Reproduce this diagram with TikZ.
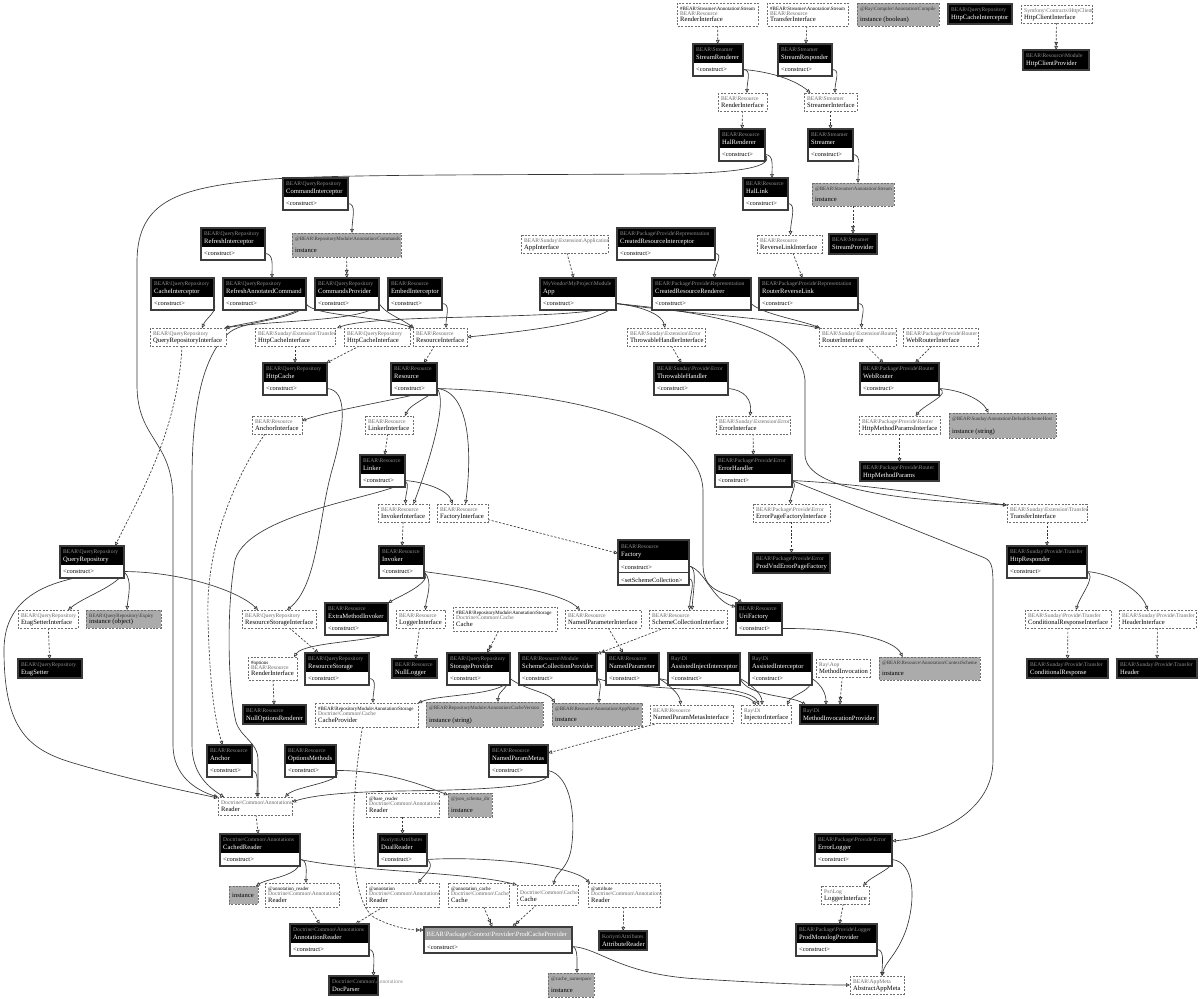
\documentclass[tikz,border=0pt]{standalone}
\usepackage{fontspec}
\setmainfont{Liberation Serif}
\usetikzlibrary{arrows.meta}
\definecolor{hdrns}{HTML}{8E8E8E}
\definecolor{ifns}{HTML}{6A6A6A}
\definecolor{instfill}{HTML}{ABABAB}
\definecolor{edgecol}{HTML}{363636}
\definecolor{clsborder}{HTML}{3C3C3C}
\definecolor{ifborder}{HTML}{6E6E6E}
\definecolor{pcgray}{HTML}{9C9C9C}
\newcommand\bsl{\textbackslash}
\newcommand\fns{\fontsize{5.6pt}{6pt}\selectfont}
\newcommand\fnm{\fontsize{6.6pt}{7.5pt}\selectfont}
\newcommand\fan{\fontsize{5pt}{5.5pt}\selectfont}
\newcommand\frow{\fontsize{6.4pt}{7pt}\selectfont}
\pgfdeclarelayer{back}
\pgfdeclarelayer{bg}
\pgfsetlayers{back,bg,main}
\tikzset{
  boxnode/.style={inner sep=0pt, outer sep=0pt, rectangle},
  nsT/.style={inner sep=0pt, anchor=base west, font=\fns},
  nmT/.style={inner sep=0pt, anchor=base west, font=\fnm},
  anT/.style={inner sep=0pt, anchor=base west, font=\fan},
  rowT/.style={inner sep=0pt, anchor=base west, font=\frow},
  clsline/.style={draw=clsborder, line width=1.1pt},
  ifline/.style={draw=ifborder, line width=0.7pt, dash pattern=on 2pt off 1.4pt, fill=white},
  instline/.style={draw=ifborder, line width=0.8pt, dash pattern=on 2pt off 1.4pt, fill=instfill},
  dep/.style={draw=edgecol, line width=0.65pt, -{Triangle[open, length=4pt, width=3.6pt]}},
  bind/.style={dep, dash pattern=on 2.2pt off 1.6pt},
  bindd/.style={bind, -{Triangle[open, length=4pt, width=3.6pt] Triangle[open, length=4pt, width=3.6pt]}},
}
% class box with one <construct> row
\newcommand\ClassBox[6]{%
  \pgfmathsetmacro\bw{#4-#2}%
  \node[boxnode, minimum width=\bw pt, minimum height=32pt, anchor=north west] (#1) at (#2,#3) {};
  \fill[white] (#2,#3) rectangle (#4,#3+32);
  \fill[black] (#2,#3) rectangle (#4,#3+19);
  \node[nsT, text=hdrns] at (#2+3,#3+7.6) {#5};
  \node[nmT, text=white] at (#2+3,#3+15.2) {#6};
  \node[rowT] at (#2+3,#3+27.4) {\textless construct\textgreater};
  \draw[clsline] (#2,#3) rectangle (#4,#3+32);
  \coordinate (#1-p) at (#4,#3+25.5);
}
% header-only black box
\newcommand\ProvBox[7]{%
  \pgfmathsetmacro\bw{#4-#2}\pgfmathsetmacro\bh{#5-#3}%
  \node[boxnode, minimum width=\bw pt, minimum height=\bh pt, anchor=north west] (#1) at (#2,#3) {};
  \fill[black] (#2,#3) rectangle (#4,#5);
  \node[nsT, text=hdrns] at (#2+3,#3+7.6) {#6};
  \node[nmT, text=white] at (#2+3,#3+15.2) {#7};
  \draw[clsline] (#2,#3) rectangle (#4,#5);
}
% interface box, two lines
\newcommand\IfBox[7]{%
  \pgfmathsetmacro\bw{#4-#2}\pgfmathsetmacro\bh{#5-#3}%
  \node[boxnode, minimum width=\bw pt, minimum height=\bh pt, anchor=north west] (#1) at (#2,#3) {};
  \draw[ifline] (#2,#3) rectangle (#4,#5);
  \node[nsT, text=ifns] at (#2+3,#5-10.6) {#6};
  \node[nmT] at (#2+3,#5-3.4) {#7};
}
% interface box, three lines
\newcommand\IfBoxA[8]{%
  \pgfmathsetmacro\bw{#4-#2}\pgfmathsetmacro\bh{#5-#3}%
  \node[boxnode, minimum width=\bw pt, minimum height=\bh pt, anchor=north west] (#1) at (#2,#3) {};
  \draw[ifline] (#2,#3) rectangle (#4,#5);
  \node[anT] at (#2+3,#3+7) {#6};
  \node[nsT, text=ifns] at (#2+3,#3+12.8) {#7};
  \node[nmT] at (#2+3,#5-4.6) {#8};
}
% instance box
\newcommand\InstBox[7]{%
  \pgfmathsetmacro\bw{#4-#2}\pgfmathsetmacro\bh{#5-#3}%
  \node[boxnode, minimum width=\bw pt, minimum height=\bh pt, anchor=north west] (#1) at (#2,#3) {};
  \draw[instline] (#2,#3) rectangle (#4,#5);
  \node[anT, text=black!80] at (#2+3,#3+7.2) {#6};
  \node[nmT] at (#2+3,#5-5) {#7};
}
\newcommand\InstBoxS[6]{%
  \pgfmathsetmacro\bw{#4-#2}\pgfmathsetmacro\bh{#5-#3}%
  \node[boxnode, minimum width=\bw pt, minimum height=\bh pt, anchor=north west] (#1) at (#2,#3) {};
  \draw[instline] (#2,#3) rectangle (#4,#5);
  \node[nmT] at (#2+3,#5-6.5) {#6};
}
\begin{document}
\begin{tikzpicture}[x=1pt,y=-1pt]
\useasboundingbox (0,0) rectangle (1200,999);
\begin{pgfonlayer}{back}
\fill[white] (0,0) rectangle (1200,999);
\end{pgfonlayer}
% ---------------- nodes ----------------
\IfBoxA{ifRA}{677}{3}{758}{26}{\#BEAR\bsl Streamer\bsl Annotation\bsl Stream}{BEAR\bsl Resource}{RenderInterface}
\IfBoxA{ifTA}{767}{3}{848}{26}{\#BEAR\bsl Streamer\bsl Annotation\bsl Stream}{BEAR\bsl Resource}{TransferInterface}
\InstBox{iCompile}{857}{3}{939}{26}{@Ray\bsl Compiler\bsl Annotation\bsl Compile}{instance (boolean)}
\ProvBox{HttpCacheInterceptor}{948}{4}{1012}{24}{BEAR\bsl QueryRepository}{HttpCacheInterceptor}
\IfBox{HttpClientIf}{1021}{5}{1092}{23}{Symfony\bsl Contracts\bsl HttpClient}{HttpClientInterface}
\ProvBox{HttpClientProvider}{1023}{50}{1089}{70}{BEAR\bsl Resource\bsl Module}{HttpClientProvider}
\ClassBox{StreamRenderer}{693}{44}{743}{BEAR\bsl Streamer}{StreamRenderer}
\ClassBox{StreamResponder}{778}{44}{832}{BEAR\bsl Streamer}{StreamResponder}
\IfBox{riR}{718}{93}{767}{111}{BEAR\bsl Resource}{RenderInterface}
\IfBox{StreamerIf}{804}{93}{857}{111}{BEAR\bsl Streamer}{StreamerInterface}
\ClassBox{HalRenderer}{719}{129}{765}{BEAR\bsl Resource}{HalRenderer}
\ClassBox{Streamer}{808}{129}{853}{BEAR\bsl Streamer}{Streamer}
\ClassBox{HalLink}{743}{178}{788}{BEAR\bsl Resource}{HalLink}
\InstBox{iStream}{812}{183}{894}{206}{@BEAR\bsl Streamer\bsl Annotation\bsl Stream}{instance}
\ProvBox{StreamProvider}{829}{234}{877}{254}{BEAR\bsl Streamer}{StreamProvider}
\IfBox{ReverseLinkIf}{757}{235}{822}{253}{BEAR\bsl Resource}{ReverseLinkInterface}
\ClassBox{CommandInterceptor}{283}{178}{348}{BEAR\bsl QueryRepository}{CommandInterceptor}
\InstBox{iCommands}{292}{233}{401}{257}{@BEAR\bsl RepositoryModule\bsl Annotation\bsl Commands}{instance}
\ClassBox{RefreshInterceptor}{201}{228}{265}{BEAR\bsl QueryRepository}{RefreshInterceptor}
\IfBox{AppIf}{521}{235}{608}{253}{BEAR\bsl Sunday\bsl Extension\bsl Application}{AppInterface}
\ClassBox{CRInterceptor}{617}{228}{715}{BEAR\bsl Package\bsl Provide\bsl Representation}{CreatedResourceInterceptor}
\ClassBox{CacheInterceptor}{151}{278}{214}{BEAR\bsl QueryRepository}{CacheInterceptor}
\ClassBox{RAC}{223}{278}{306}{BEAR\bsl QueryRepository}{RefreshAnnotatedCommand}
\ClassBox{CommandsProvider}{315}{278}{379}{BEAR\bsl QueryRepository}{CommandsProvider}
\ClassBox{EmbedInterceptor}{388}{278}{442}{BEAR\bsl Resource}{EmbedInterceptor}
\ClassBox{App}{540}{278}{616}{MyVendor\bsl MyProject\bsl Module}{App}
\ClassBox{CRRenderer}{652}{278}{751}{BEAR\bsl Package\bsl Provide\bsl Representation}{CreatedResourceRenderer}
\ClassBox{RouterReverseLink}{759}{278}{858}{BEAR\bsl Package\bsl Provide\bsl Representation}{RouterReverseLink}
\IfBox{QRI}{150}{328}{226}{346}{BEAR\bsl QueryRepository}{QueryRepositoryInterface}
\IfBox{HttpCacheIfS}{255}{328}{335}{346}{BEAR\bsl Sunday\bsl Extension\bsl Transfer}{HttpCacheInterface}
\IfBox{HttpCacheIfQ}{344}{328}{410}{346}{BEAR\bsl QueryRepository}{HttpCacheInterface}
\IfBox{ResourceIf}{413}{328}{467}{346}{BEAR\bsl Resource}{ResourceInterface}
\IfBox{ThrowableHandlerIf}{627}{328}{705}{346}{BEAR\bsl Sunday\bsl Extension\bsl Error}{ThrowableHandlerInterface}
\IfBox{RouterIf}{819}{328}{896}{346}{BEAR\bsl Sunday\bsl Extension\bsl Router}{RouterInterface}
\IfBox{WebRouterIf}{903}{328}{978}{346}{BEAR\bsl Package\bsl Provide\bsl Router}{WebRouterInterface}
\ClassBox{HttpCache}{263}{363}{327}{BEAR\bsl QueryRepository}{HttpCache}
\ClassBox{Resource}{391}{363}{437}{BEAR\bsl Resource}{Resource}
\ClassBox{ThrowableHandler}{654}{363}{728}{BEAR\bsl Sunday\bsl Provide\bsl Error}{ThrowableHandler}
\ClassBox{WebRouter}{860}{363}{939}{BEAR\bsl Package\bsl Provide\bsl Router}{WebRouter}
\IfBox{AnchorIf}{252}{416}{302}{434}{BEAR\bsl Resource}{AnchorInterface}
\IfBox{LinkerIf}{365}{416}{413}{434}{BEAR\bsl Resource}{LinkerInterface}
\IfBox{ErrorIf}{716}{416}{790}{434}{BEAR\bsl Sunday\bsl Extension\bsl Error}{ErrorInterface}
\IfBox{HMPIf}{859}{416}{940}{434}{BEAR\bsl Package\bsl Provide\bsl Router}{HttpMethodParamsInterface}
\InstBox{iDSH}{949}{413}{1056}{438}{@BEAR\bsl Sunday\bsl Annotation\bsl DefaultSchemeHost}{instance (string)}
\ClassBox{Linker}{360}{455}{405}{BEAR\bsl Resource}{Linker}
\ClassBox{ErrorHandler}{715}{455}{792}{BEAR\bsl Package\bsl Provide\bsl Error}{ErrorHandler}
\ProvBox{HttpMethodParams}{860}{462}{939}{481}{BEAR\bsl Package\bsl Provide\bsl Router}{HttpMethodParams}
\IfBox{InvokerIf}{378}{504}{429}{522}{BEAR\bsl Resource}{InvokerInterface}
\IfBox{FactoryIf}{437}{504}{488}{522}{BEAR\bsl Resource}{FactoryInterface}
\IfBox{EPFIf}{753}{504}{830}{522}{BEAR\bsl Package\bsl Provide\bsl Error}{ErrorPageFactoryInterface}
\IfBox{TransferIf}{1007}{504}{1087}{522}{BEAR\bsl Sunday\bsl Extension\bsl Transfer}{TransferInterface}
\ClassBox{QueryRepository}{60}{546}{124}{BEAR\bsl QueryRepository}{QueryRepository}
\ClassBox{Invoker}{379}{546}{424}{BEAR\bsl Resource}{Invoker}
% Factory (two rows)
\node[boxnode, minimum width=71pt, minimum height=45pt, anchor=north west] (Factory) at (618,540) {};
\fill[white] (618,540) rectangle (689,585);
\fill[black] (618,540) rectangle (689,560);
\node[nsT, text=hdrns] at (621,548) {BEAR\bsl Resource};
\node[nmT, text=white] at (621,556) {Factory};
\node[rowT] at (621,569.5) {\textless construct\textgreater};
\node[rowT] at (621,582) {\textless setSchemeCollection\textgreater};
\draw[clsline] (618,540) rectangle (689,585);
\draw[clsborder, line width=0.6pt] (618,572.5) -- (689,572.5);
\coordinate (Factory-p) at (689,566);
\coordinate (Factory-p2) at (689,578.5);
\ProvBox{ProdVnd}{753}{553}{830}{573}{BEAR\bsl Package\bsl Provide\bsl Error}{ProdVndErrorPageFactory}
\ClassBox{HttpResponder}{1007}{546}{1087}{BEAR\bsl Sunday\bsl Provide\bsl Transfer}{HttpResponder}
\IfBox{EtagSetterIf}{18}{610}{78}{628}{BEAR\bsl QueryRepository}{EtagSetterInterface}
\InstBox{iExpiry}{86}{610}{161}{628}{BEAR\bsl QueryRepository\bsl Expiry}{instance (object)}
\IfBox{RSIf}{242}{610}{316}{628}{BEAR\bsl QueryRepository}{ResourceStorageInterface}
\ClassBox{ExtraMethodInvoker}{325}{603}{388}{BEAR\bsl Resource}{ExtraMethodInvoker}
\IfBox{LoggerIf}{396}{610}{445}{628}{BEAR\bsl Resource}{LoggerInterface}
\IfBoxA{CacheA}{453}{607}{557}{631}{\#BEAR\bsl RepositoryModule\bsl Annotation\bsl Storage}{Doctrine\bsl Common\bsl Cache}{Cache}
\IfBox{NPIf}{565}{610}{641}{628}{BEAR\bsl Resource}{NamedParameterInterface}
\IfBox{SCIf}{649}{610}{727}{628}{BEAR\bsl Resource}{SchemeCollectionInterface}
\ClassBox{UriFactory}{736}{603}{782}{BEAR\bsl Resource}{UriFactory}
\IfBox{CRIf}{1025}{610}{1111}{628}{BEAR\bsl Sunday\bsl Provide\bsl Transfer}{ConditionalResponseInterface}
\IfBox{HeaderIf}{1119}{610}{1196}{628}{BEAR\bsl Sunday\bsl Provide\bsl Transfer}{HeaderInterface}
\ProvBox{EtagSetter}{18}{659}{82}{678}{BEAR\bsl QueryRepository}{EtagSetter}
\IfBoxA{RIOpt}{248}{657}{297}{680}{\#options}{BEAR\bsl Resource}{RenderInterface}
\ClassBox{ResourceStorage}{305}{653}{369}{BEAR\bsl QueryRepository}{ResourceStorage}
\ProvBox{NullLogger}{392}{659}{437}{678}{BEAR\bsl Resource}{NullLogger}
\ClassBox{StorageProvider}{447}{653}{510}{BEAR\bsl QueryRepository}{StorageProvider}
\ClassBox{SCProvider}{519}{653}{597}{BEAR\bsl Resource\bsl Module}{SchemeCollectionProvider}
\ClassBox{NamedParameter}{606}{653}{659}{BEAR\bsl Resource}{NamedParameter}
\ClassBox{AII}{668}{653}{740}{Ray\bsl Di}{AssistedInjectInterceptor}
\ClassBox{AI}{749}{653}{812}{Ray\bsl Di}{AssistedInterceptor}
\IfBox{MethodInvocation}{816}{659}{870}{677}{Ray\bsl Aop}{MethodInvocation}
\InstBox{iContextScheme}{879}{657}{980}{680}{@BEAR\bsl Resource\bsl Annotation\bsl ContextScheme}{instance}
\ProvBox{ConditionalResponse}{1027}{659}{1108}{678}{BEAR\bsl Sunday\bsl Provide\bsl Transfer}{ConditionalResponse}
\ProvBox{Header}{1117}{659}{1197}{678}{BEAR\bsl Sunday\bsl Provide\bsl Transfer}{Header}
\ProvBox{NullOptionsRenderer}{243}{705}{306}{724}{BEAR\bsl Resource}{NullOptionsRenderer}
\IfBoxA{CacheProvA}{315}{703}{418}{727}{\#BEAR\bsl RepositoryModule\bsl Annotation\bsl Storage}{Doctrine\bsl Common\bsl Cache}{CacheProvider}
\InstBox{iCacheVersion}{426}{702}{543}{727}{@BEAR\bsl RepositoryModule\bsl Annotation\bsl CacheVersion}{instance (string)}
\InstBox{iAppName}{552}{703}{642}{726}{@BEAR\bsl Resource\bsl Annotation\bsl AppName}{instance}
\IfBox{NPMIf}{650}{705}{733}{723}{BEAR\bsl Resource}{NamedParamMetasInterface}
\IfBox{InjectorIf}{741}{705}{791}{723}{Ray\bsl Di}{InjectorInterface}
\ProvBox{MIP}{800}{705}{878}{724}{Ray\bsl Di}{MethodInvocationProvider}
\ClassBox{NamedParamMetas}{489}{745}{548}{BEAR\bsl Resource}{NamedParamMetas}
\ClassBox{Anchor}{207}{745}{252}{BEAR\bsl Resource}{Anchor}
\ClassBox{OptionsMethods}{285}{745}{336}{BEAR\bsl Resource}{OptionsMethods}
\IfBox{Reader}{218}{797}{292}{815}{Doctrine\bsl Common\bsl Annotations}{Reader}
\InstBox{iJSD}{448}{793}{492}{817}{@json\_schema\_dir}{instance}
\IfBoxA{BaseReader}{366}{793}{439}{817}{@base\_reader}{Doctrine\bsl Common\bsl Annotations}{Reader}
\ClassBox{CachedReader}{220}{834}{300}{Doctrine\bsl Common\bsl Annotations}{CachedReader}
\ClassBox{DualReader}{378}{834}{427}{Koriym\bsl Attributes}{DualReader}
\ClassBox{ErrorLogger}{815}{834}{892}{BEAR\bsl Package\bsl Provide\bsl Error}{ErrorLogger}
\InstBoxS{iInst}{229}{886}{258}{904}{instance}
\IfBoxA{AnnReader}{265}{883}{339}{907}{@annotation\_reader}{Doctrine\bsl Common\bsl Annotations}{Reader}
\IfBoxA{AnnotReader}{366}{883}{439}{907}{@annotation}{Doctrine\bsl Common\bsl Annotations}{Reader}
\IfBoxA{AnnCache}{448}{883}{509}{907}{@annotation\_cache}{Doctrine\bsl Common\bsl Cache}{Cache}
\IfBox{CacheD}{517}{885}{578}{905}{Doctrine\bsl Common\bsl Cache}{Cache}
\IfBoxA{AttrReader}{588}{883}{660}{907}{@attribute}{Doctrine\bsl Common\bsl Annotations}{Reader}
\IfBox{PsrLoggerIf}{821}{886}{869}{904}{Psr\bsl Log}{LoggerInterface}
\ClassBox{AnnotationReader}{290}{924}{369}{Doctrine\bsl Common\bsl Annotations}{AnnotationReader}
% ProdCacheProvider (grey header)
\node[boxnode, minimum width=148pt, minimum height=26pt, anchor=north west] (ProdCache) at (424,927) {};
\fill[white] (424,927) rectangle (572,953);
\fill[pcgray] (424,927) rectangle (572,940);
\node[nmT, text=white, font=\fontsize{6.5pt}{7pt}\selectfont] at (426.5,936.3) {BEAR\bsl Package\bsl Context\bsl Provider\bsl ProdCacheProvider};
\node[rowT] at (427,949.6) {\textless construct\textgreater};
\draw[clsline] (424,927) rectangle (572,953);
\coordinate (ProdCache-p) at (572,946.5);
\ProvBox{AttributeReader}{599}{931}{647}{950}{Koriym\bsl Attributes}{AttributeReader}
\ClassBox{ProdMonolog}{796}{924}{877}{BEAR\bsl Package\bsl Provide\bsl Logger}{ProdMonologProvider}
\ProvBox{DocParser}{329}{976}{378}{995}{Doctrine\bsl Common\bsl Annotations}{DocParser}
\InstBox{iCacheNS}{548}{973}{594}{997}{@cache\_namespace}{instance}
\IfBox{AAM}{850}{976}{904}{994}{BEAR\bsl AppMeta}{AbstractAppMeta}
% ---------------- edges ----------------
\begin{pgfonlayer}{bg}
% bindings
\draw[bind] (ifRA) -- (StreamRenderer);
\draw[bind] (ifTA) -- (StreamResponder);
\draw[bindd] (HttpClientIf) -- (HttpClientProvider);
\draw[bind] (riR) -- (HalRenderer);
\draw[bind] (StreamerIf) -- (Streamer);
\draw[bindd] (iStream) -- (StreamProvider);
\draw[bind] (ReverseLinkIf) -- (RouterReverseLink);
\draw[bindd] (iCommands) -- (CommandsProvider);
\draw[bind] (AppIf) -- (App);
\draw[bind] ([xshift=-6pt]QRI.south) .. controls (178,430) and (140,495) .. ([xshift=23pt]QueryRepository.north);
\draw[bind] (HttpCacheIfS) -- (HttpCache);
\draw[bind] (HttpCacheIfQ) -- (HttpCache);
\draw[bind] (ResourceIf) -- (Resource);
\draw[bind] (ThrowableHandlerIf) -- (ThrowableHandler);
\draw[bind] (RouterIf) -- (WebRouter);
\draw[bind] (WebRouterIf) -- (WebRouter);
\draw[bind] (HMPIf) -- (HttpMethodParams);
\draw[bind] (ErrorIf) -- (ErrorHandler);
\draw[bind] (EPFIf) -- (ProdVnd);
\draw[bind] (TransferIf) -- (HttpResponder);
\draw[bind] (CRIf) -- (ConditionalResponse);
\draw[bind] (HeaderIf) -- (Header);
\draw[bind] ([xshift=-12pt]AnchorIf.south) .. controls (240,470) and (205,540) .. (208,620) .. controls (210,690) and (215,720) .. ([xshift=-7pt]Anchor.north);
\draw[bind] (LinkerIf) -- (Linker);
\draw[bind] (InvokerIf) -- (Invoker);
\draw[bind] (FactoryIf) -- (Factory);
\draw[bind] (EtagSetterIf) -- (EtagSetter);
\draw[bind] (RSIf) -- (ResourceStorage);
\draw[bind] (LoggerIf) -- (NullLogger);
\draw[bindd] (CacheA) -- (StorageProvider);
\draw[bind] (NPIf) -- (NamedParameter);
\draw[bindd] (SCIf) -- (SCProvider);
\draw[bind] (RIOpt) -- (NullOptionsRenderer);
\draw[bindd] (MethodInvocation) -- (MIP);
\draw[bind] (NPMIf) -- (NamedParamMetas);
\draw[bindd] ([xshift=-4pt]CacheProvA.south) .. controls (352,790) and (345,900) .. (375,918) .. controls (395,928) and (410,930) .. ([yshift=10pt]ProdCache.west);
\draw[bind] (Reader) -- (CachedReader);
\draw[bind] (BaseReader) -- (DualReader);
\draw[bind] (AnnReader) -- (AnnotationReader);
\draw[bind] (AnnotReader) -- (AnnotationReader);
\draw[bind] (AttrReader) -- (AttributeReader);
\draw[bindd] (AnnCache) -- (ProdCache);
\draw[bindd] (CacheD) -- (ProdCache);
\draw[bind] (PsrLoggerIf) -- (ProdMonolog);
% dependencies
\draw[dep] (StreamRenderer-p) .. controls +(9,0) and +(0,-12) .. ([xshift=4.5pt]riR.north);
\draw[dep] (StreamRenderer-p) .. controls (775,72) and (798,82) .. ([xshift=-20pt]StreamerIf.north);
\draw[dep] (StreamResponder-p) .. controls +(9,0) and +(0,-12) .. ([xshift=4.5pt]StreamerIf.north);
\draw[dep] (HalRenderer-p) .. controls +(9,0) and +(0,-12) .. ([xshift=6.5pt]HalLink.north);
\draw[dep] (HalRenderer-p) .. controls (775,166) and (745,174) .. (650,174) .. controls (520,175) and (320,174) .. (260,180) .. controls (180,188) and (138,200) .. (137,260) -- (137,385) .. controls (137,440) and (173,440) .. (173,500) -- (173,745) .. controls (173,775) and (195,790) .. (Reader.north west);
\draw[dep] (HalLink-p) .. controls +(9,0) and +(0,-14) .. ([xshift=1pt]ReverseLinkIf.north);
\draw[dep] (Streamer-p) .. controls +(9,0) and +(0,-14) .. ([xshift=5pt]iStream.north);
\draw[dep] (CommandInterceptor-p) .. controls +(9,0) and +(0,-14) .. ([xshift=5.5pt]iCommands.north);
\draw[dep] (RefreshInterceptor-p) .. controls +(9,0) and +(0,-12) .. ([xshift=7.5pt]RAC.north);
\draw[dep] (CRInterceptor-p) .. controls +(9,0) and +(0,-12) .. ([xshift=13pt]CRRenderer.north);
\draw[dep] (CacheInterceptor-p) .. controls +(4,8) and +(4,-10) .. ([xshift=14pt]QRI.north);
\draw[dep] (RAC-p) .. controls (300,316) and (250,322) .. ([xshift=-1.5pt]QRI.north east);
\draw[dep] (CommandsProvider-p) .. controls (370,322) and (270,320) .. ([xshift=-0.5pt]QRI.north east);
\draw[dep] (RAC-p) .. controls (312,316) and (380,316) .. (ResourceIf.north west);
\draw[dep] (CommandsProvider-p) .. controls (386,314) and (400,318) .. ([xshift=1pt]ResourceIf.north west);
\draw[dep] (RAC-p) .. controls (300,320) and (245,320) .. (230,332) .. controls (205,352) and (192,400) .. (192,480) -- (192,745) .. controls (192,775) and (210,788) .. ([xshift=6pt]Reader.north west);
\draw[dep] (EmbedInterceptor-p) .. controls +(9,0) and +(0,-12) .. ([xshift=6pt]ResourceIf.north);
\draw[dep] (App-p) .. controls (600,322) and (380,312) .. ([xshift=2pt]HttpCacheIfS.north east);
\draw[dep] (App-p) .. controls (608,322) and (520,332) .. (ResourceIf.east);
\draw[dep] (App-p) .. controls (640,306) and (662,314) .. ([xshift=-1pt]ThrowableHandlerIf.north);
\draw[dep] (App-p) .. controls (670,312) and (770,318) .. (RouterIf.north west);
\draw[dep] (App-p) .. controls (700,312) and (800,325) .. (805,380) -- (805,455) .. controls (806,490) and (900,500) .. ([yshift=-1pt]TransferIf.north west);
\draw[dep] (CRRenderer-p) .. controls (762,314) and (800,320) .. ([xshift=1pt]RouterIf.north west);
\draw[dep] (RouterReverseLink-p) .. controls +(9,0) and +(0,-12) .. ([xshift=4pt]RouterIf.north);
\draw[dep] (ThrowableHandler-p) .. controls (745,390) and (752,400) .. ([xshift=-3pt]ErrorIf.north);
\draw[dep] (WebRouter-p) .. controls (952,394) and (925,404) .. ([xshift=16pt]HMPIf.north);
\draw[dep] (WebRouter-p) .. controls (962,390) and (982,400) .. ([xshift=-14pt]iDSH.north);
\draw[dep] (HttpCache-p) .. controls (348,390) and (345,425) .. (332,470) .. controls (318,520) and (318,585) .. ([xshift=8pt]RSIf.north);
\draw[dep] (Resource-p) .. controls (420,396) and (330,410) .. ([yshift=4pt]AnchorIf.east);
\draw[dep] (Resource-p) .. controls (432,396) and (410,404) .. ([xshift=16pt]LinkerIf.north);
\draw[dep] (Resource-p) .. controls (448,400) and (430,460) .. ([xshift=10pt]InvokerIf.north);
\draw[dep] (Resource-p) .. controls (475,392) and (470,470) .. ([xshift=3pt]FactoryIf.north);
\draw[dep] (Resource-p) .. controls (560,392) and (700,420) .. (703,490) -- (703,565) .. controls (703,595) and (730,592) .. ([xshift=-17pt]UriFactory.north);
\draw[dep] (Linker-p) .. controls +(5,3) and +(0,-10) .. ([xshift=2pt]InvokerIf.north);
\draw[dep] (Linker-p) .. controls (425,482) and (448,490) .. ([xshift=-10pt]FactoryIf.north);
\draw[dep] (Linker-p) .. controls (400,495) and (250,510) .. (235,560) .. controls (226,610) and (228,690) .. (236,722) .. controls (241,738) and (258,742) .. (258,760) -- ([xshift=3pt]Reader.north);
\draw[dep] (QueryRepository-p) .. controls (118,586) and (85,596) .. ([xshift=20pt]EtagSetterIf.north);
\draw[dep] (QueryRepository-p) .. controls (133,580) and (128,596) .. ([xshift=3.5pt]iExpiry.north);
\draw[dep] (QueryRepository-p) .. controls (185,572) and (240,592) .. ([xshift=-21pt]RSIf.north);
\draw[dep] (QueryRepository-p) .. controls (70,576) and (4,585) .. (4,650) .. controls (4,725) and (25,748) .. (70,762) .. controls (130,780) and (190,792) .. ([yshift=-1pt]Reader.north west);
\draw[dep] (Invoker-p) .. controls (434,582) and (400,596) .. (ExtraMethodInvoker.north east);
\draw[dep] (Invoker-p) .. controls (434,582) and (426,598) .. ([xshift=5pt]LoggerIf.north);
\draw[dep] (Invoker-p) .. controls (470,578) and (560,590) .. ([xshift=-23pt]NPIf.north);
\draw[dep] (ExtraMethodInvoker-p) .. controls (398,642) and (305,640) .. ([xshift=-3pt]RIOpt.north east);
\draw[dep] (ResourceStorage-p) .. controls +(9,0) and +(0,-12) .. ([xshift=6.5pt]CacheProvA.north);
\draw[dep] (StorageProvider-p) .. controls (505,696) and (440,694) .. (CacheProvA.north east);
\draw[dep] (StorageProvider-p) .. controls (506,690) and (498,692) .. ([xshift=13.5pt]iCacheVersion.north);
\draw[dep] (StorageProvider-p) .. controls (525,690) and (548,692) .. ([xshift=3pt]iAppName.north west);
\draw[dep] (SCProvider-p) .. controls +(6,4) and +(0,-12) .. ([xshift=2pt]iAppName.north);
\draw[dep] (SCProvider-p) .. controls (640,692) and (742,686) .. ([xshift=-10pt]InjectorIf.north);
\draw[dep] (NamedParameter-p) .. controls (668,684) and (680,694) .. ([xshift=-11pt]NPMIf.north);
\draw[dep] (NamedParameter-p) .. controls (700,688) and (752,688) .. ([xshift=-7pt]InjectorIf.north);
\draw[dep] (AII-p) .. controls +(8,4) and +(0,-12) .. ([xshift=-4pt]InjectorIf.north);
\draw[dep] (AII-p) .. controls (748,697) and (790,695) .. ([xshift=6pt]MIP.north west);
\draw[dep] (AI-p) .. controls (812,692) and (792,694) .. ([xshift=-4pt]InjectorIf.north east);
\draw[dep] (AI-p) .. controls (822,685) and (826,694) .. ([xshift=-13pt]MIP.north);
\draw[dep] (Factory-p) .. controls (698,566) and (693,592) .. ([xshift=4pt]SCIf.north);
\draw[dep] (Factory-p2) .. controls (696,580) and (690,594) .. ([xshift=1.5pt]SCIf.north);
\draw[dep] (Factory-p) .. controls (705,570) and (712,600) .. ([yshift=-4pt]UriFactory.north west);
\draw[dep] (UriFactory-p) .. controls (850,628) and (895,640) .. ([xshift=-27pt]iContextScheme.north);
\draw[dep] (ErrorHandler-p) .. controls +(6,4) and +(0,-10) .. ([xshift=-1pt]EPFIf.north);
\draw[dep] (ErrorHandler-p) .. controls (880,485) and (960,500) .. ([yshift=-1pt]TransferIf.north west);
\draw[dep] (ErrorHandler-p) -- (985,558) .. controls (993,562) and (993,570) .. (993,590) -- (993,760) .. controls (993,815) and (930,838) .. ([yshift=9pt]ErrorLogger.east);
\draw[dep] (HttpResponder-p) .. controls (1097,576) and (1080,596) .. ([xshift=8pt]CRIf.north);
\draw[dep] (HttpResponder-p) .. controls (1115,574) and (1142,592) .. ([xshift=-10pt]HeaderIf.north);
\draw[dep] (Anchor-p) .. controls +(7,0) and +(0,-12) .. ([xshift=2pt]Reader.north);
\draw[dep] (OptionsMethods-p) .. controls (346,782) and (296,786) .. ([xshift=-7pt]Reader.north east);
\draw[dep] (OptionsMethods-p) .. controls (385,770) and (425,786) .. ([yshift=-2pt]iJSD.north west);
\draw[dep] (NamedParamMetas-p) .. controls (560,788) and (470,790) .. (400,791) .. controls (340,792) and (310,796) .. ([yshift=4pt]Reader.east);
\draw[dep] (NamedParamMetas-p) .. controls (572,775) and (576,820) .. (571,850) .. controls (567,870) and (556,872) .. ([xshift=6pt]CacheD.north);
\draw[dep] (CachedReader-p) .. controls (302,876) and (268,878) .. ([xshift=-2pt]iInst.north east);
\draw[dep] (CachedReader-p) .. controls +(8,0) and +(0,-12) .. ([xshift=4pt]AnnReader.north);
\draw[dep] (CachedReader-p) .. controls (360,872) and (470,872) .. (CacheD.north west);
\draw[dep] (DualReader-p) .. controls (436,866) and (425,874) .. ([xshift=15.5pt]AnnotReader.north);
\draw[dep] (DualReader-p) .. controls (480,856) and (570,864) .. ([xshift=2pt]AttrReader.north west);
\draw[dep] (AnnotationReader-p) .. controls +(7,0) and +(0,-12) .. ([xshift=20pt]DocParser.north);
\draw[dep] (ErrorLogger-p) .. controls (898,866) and (872,876) .. ([xshift=18pt]PsrLoggerIf.north);
\draw[dep] (ErrorLogger-p) .. controls (915,862) and (916,900) .. (906,930) .. controls (897,955) and (885,962) .. ([xshift=5pt]AAM.north);
\draw[dep] (ProdMonolog-p) .. controls +(8,0) and +(0,-12) .. ([xshift=5pt]AAM.north);
\draw[dep] (ProdCache-p) .. controls +(6,0) and +(0,-12) .. ([xshift=6pt]iCacheNS.north);
\draw[dep] (ProdCache-p) .. controls (600,948) and (620,975) .. (700,979) .. controls (780,984) and (820,985) .. (AAM.west);
\end{pgfonlayer}
\end{tikzpicture}
\end{document}
